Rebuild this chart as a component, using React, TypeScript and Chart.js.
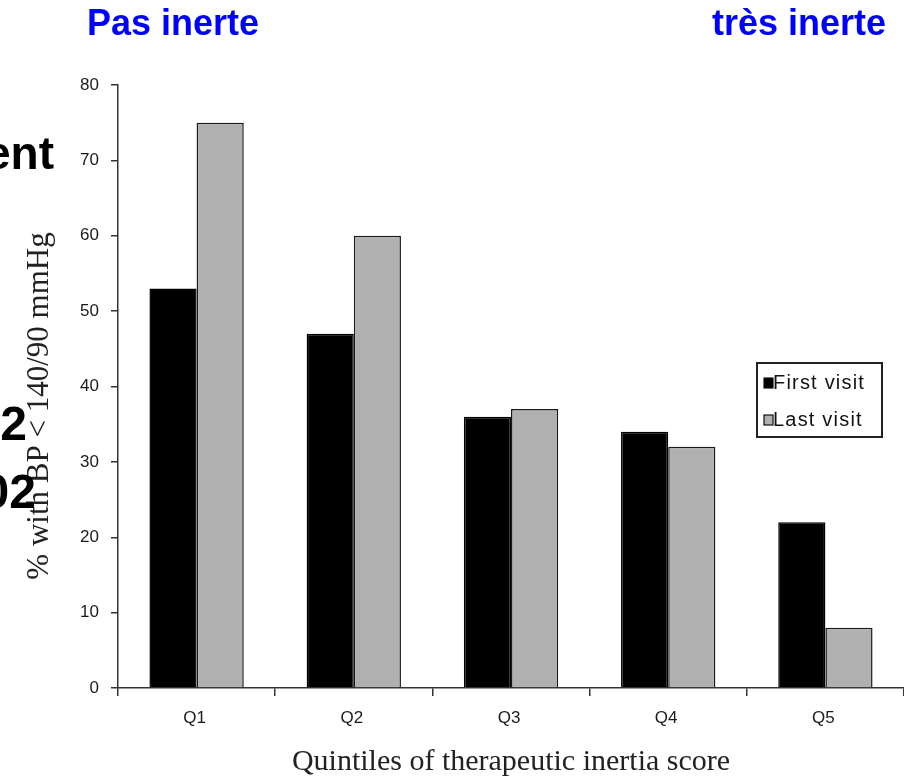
import React, { useEffect, useRef } from "react";
import { Chart, registerables } from "chart.js";

Chart.register(...registerables);

const categories = ["Q1", "Q2", "Q3", "Q4", "Q5"];
const firstVisit = [53, 47, 36, 34, 22];
const lastVisit = [75, 60, 37, 32, 8];
const seriesNames = ["First visit", "Last visit"];
const yTitle = "% with BP < 140/90 mmHg";
const xTitle = "Quintiles of therapeutic inertia score";
const leftNote = "Pas inerte";
const rightNote = "très inerte";
const fragments = ["ent", "2", "02"];

const SANS = "'Liberation Sans', Arial, sans-serif";
const SERIF = "'Liberation Serif', 'Times New Roman', serif";

const boxLegend = {
  id: "boxLegend",
  afterDraw(chart: any) {
    const ctx = chart.ctx;
    const x0 = 757, y0 = 363, w = 125, h = 74;
    ctx.save();
    ctx.fillStyle = "#ffffff";
    ctx.fillRect(x0, y0, w, h);
    ctx.strokeStyle = "#222";
    ctx.lineWidth = 2;
    ctx.strokeRect(x0, y0, w, h);
    ctx.font = `20px ${SANS}`;
    try { (ctx as any).letterSpacing = "1.2px"; } catch (e) {}
    ctx.textBaseline = "middle";
    ctx.textAlign = "left";
    chart.data.datasets.forEach((ds: any, i: number) => {
      const cy = y0 + 20 + i * 37;
      ctx.fillStyle = ds.backgroundColor;
      ctx.fillRect(x0 + 7, cy - 5, 9, 10);
      ctx.strokeStyle = "#111";
      ctx.lineWidth = 1.2;
      ctx.strokeRect(x0 + 7, cy - 5, 9, 10);
      ctx.fillStyle = "#111";
      ctx.fillText(ds.label, x0 + 16, cy);
    });
    ctx.restore();
  },
};

const yTitlePlugin = {
  id: "yTitlePlugin",
  afterDraw(chart: any) {
    const ctx = chart.ctx;
    ctx.save();
    ctx.translate(40, 406);
    ctx.rotate(-Math.PI / 2);
    ctx.font = `31px ${SERIF}`;
    ctx.fillStyle = "#222";
    ctx.textAlign = "center";
    ctx.textBaseline = "middle";
    ctx.fillText(yTitle, 0, 0);
    ctx.restore();
  },
};

export default function App() {
  const ref = useRef<HTMLCanvasElement | null>(null);

  useEffect(() => {
    if (!ref.current) return;
    const chart = new Chart(ref.current, {
      type: "bar",
      data: {
        labels: categories,
        datasets: [
          {
            label: seriesNames[0],
            data: firstVisit,
            backgroundColor: "#000000",
            borderColor: "#000000",
            borderWidth: 1.5,
            categoryPercentage: 0.6,
            barPercentage: 1.0,
          },
          {
            label: seriesNames[1],
            data: lastVisit,
            backgroundColor: "#b0b0b0",
            borderColor: "#1a1a1a",
            borderWidth: 1.5,
            categoryPercentage: 0.6,
            barPercentage: 1.0,
          },
        ],
      },
      options: {
        animation: false,
        responsive: false,
        maintainAspectRatio: false,
        layout: { padding: { top: 85, left: 0, right: 0, bottom: 0 } },
        plugins: {
          legend: { display: false },
          tooltip: { enabled: false },
        },
        scales: {
          x: {
            offset: true,
            grid: {
              offset: true,
              drawOnChartArea: false,
              drawTicks: true,
              tickLength: 8,
              color: "#333",
              lineWidth: 1.5,
            },
            border: { display: true, color: "#333", width: 1.5 },
            ticks: {
              color: "#1a1a1a",
              font: { family: SANS, size: 17 },
              padding: 12,
              labelOffset: -2,
            },
            title: {
              display: true,
              text: xTitle,
              color: "#222",
              font: { family: SERIF, size: 30 },
              padding: { top: 0, bottom: -2 },
            },
            afterFit(scale: any) {
              scale.height = 90;
            },
          },
          y: {
            min: 0,
            max: 80,
            ticks: {
              stepSize: 10,
              color: "#1a1a1a",
              font: { family: SANS, size: 17 },
              padding: 12,
            },
            grid: {
              drawOnChartArea: false,
              drawTicks: true,
              tickLength: 7,
              color: "#333",
              lineWidth: 1.5,
            },
            border: { display: true, color: "#333", width: 1.5 },
            title: { display: false, text: yTitle },
            afterFit(scale: any) {
              scale.width = 118;
            },
          },
        },
      },
      plugins: [yTitlePlugin, boxLegend],
    });
    return () => chart.destroy();
  }, []);

  const blue: React.CSSProperties = {
    position: "absolute",
    top: 5,
    fontFamily: SANS,
    fontWeight: "bold",
    fontSize: 36,
    lineHeight: "36px",
    color: "#0000ff",
    whiteSpace: "nowrap",
  };
  const frag: React.CSSProperties = {
    position: "absolute",
    fontFamily: SANS,
    fontWeight: "bold",
    color: "#000",
    whiteSpace: "nowrap",
    textAlign: "right",
  };

  return (
    <div
      style={{
        position: "fixed",
        left: 0,
        top: 0,
        width: 904,
        height: 778,
        background: "#fff",
        overflow: "hidden",
      }}
    >
      <canvas ref={ref} width={904} height={778} style={{ position: "absolute", left: 0, top: 0 }} />
      <div style={{ ...blue, left: 87 }}>{leftNote}</div>
      <div style={{ ...blue, right: 18 }}>{rightNote}</div>
      <div style={{ ...frag, right: 904 - 54, top: 130, fontSize: 46, lineHeight: "46px" }}>{fragments[0]}</div>
      <div style={{ ...frag, right: 904 - 27, top: 400, fontSize: 48, lineHeight: "48px" }}>{fragments[1]}</div>
      <div style={{ ...frag, right: 904 - 36, top: 468, fontSize: 48, lineHeight: "48px" }}>{fragments[2]}</div>
    </div>
  );
}
